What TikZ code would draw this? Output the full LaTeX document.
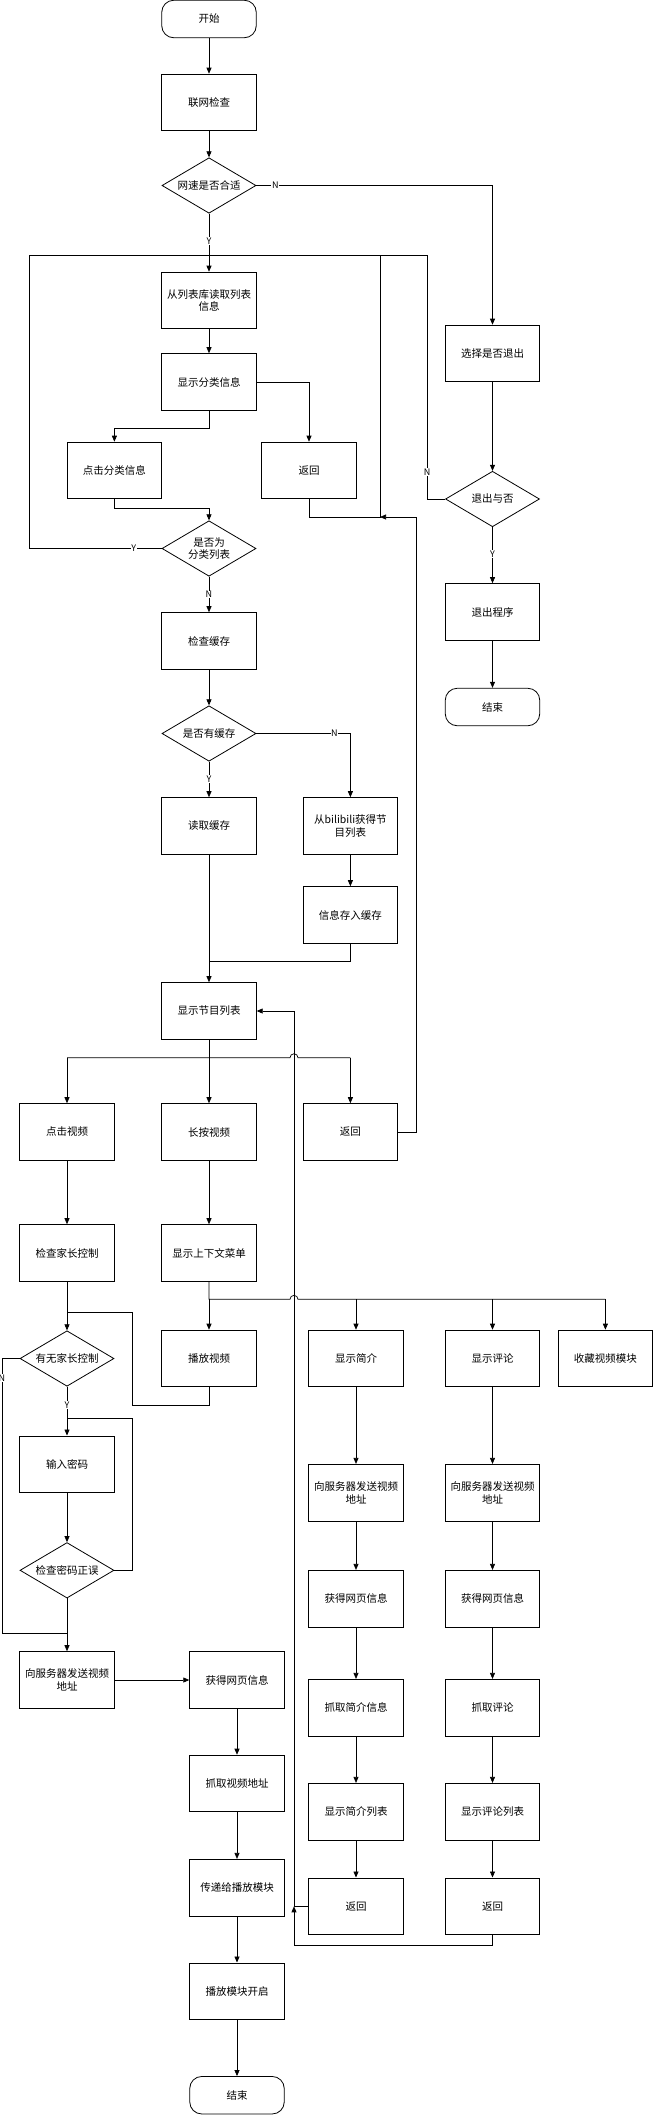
\documentclass[tikz,border=0pt]{standalone}
\usepackage{fontspec}
\setmainfont{Noto Sans CJK SC}
\usetikzlibrary{arrows.meta,shapes.geometric}
\tikzstyle{every path}=[line width=0.7pt]
\tikzstyle{process}=[draw, rectangle, line width=0.9pt, minimum width=94.5pt, minimum height=56.7pt, inner sep=1pt, align=center, font=\fontsize{10.5}{12.7}\selectfont]
\tikzstyle{decision}=[draw, diamond, aspect=1.7, line width=0.8pt, minimum width=94pt, minimum height=55.5pt, inner sep=0pt, align=center, font=\fontsize{10.5}{12.7}\selectfont]
\tikzstyle{terminal}=[draw, rectangle, rounded corners=12pt, line width=0.8pt, minimum width=94.5pt, minimum height=37.5pt, inner sep=1pt, font=\fontsize{10.5}{12.7}\selectfont]
\tikzstyle{flow}=[-{Triangle[length=6pt,width=5pt]}]
\tikzstyle{answer}=[fill=white, inner sep=0.6pt, font=\fontsize{9}{9}\selectfont]

\begin{document}
\begin{tikzpicture}[x=1pt, y=-1pt]
            \useasboundingbox (0,0) rectangle (653,2115);

            \node[terminal] (start) at (209,19) {开始};
            \node[process] (netcheck) at (209,102.5) {联网检查};
            \node[decision] (speedok) at (209,185.5) {网速是否合适};
            \node[process] (readlist) at (209,300.5) {从列表库读取列表\\信息};
            \node[process] (showcat) at (209,382) {显示分类信息};
            \node[process] (clickcat) at (114.4,470.5) {点击分类信息};
            \node[process] (backcat) at (309,470.5) {返回};
            \node[decision] (iscatlist) at (209,548.5) {是否为\\分类列表};
            \node[process] (checkcache) at (209,641) {检查缓存};
            \node[decision] (hascache) at (209,733.5) {是否有缓存};
            \node[process] (readcache) at (209,826) {读取缓存};
            \node[process] (fetchlist) at (350.4,826) {从bilibili获得节\\目列表};
            \node[process] (savecache) at (350.4,915) {信息存入缓存};
            \node[process] (showlist) at (209,1011) {显示节目列表};

            \node[process] (selectquit) at (492.5,353.5) {选择是否退出};
            \node[decision] (quitornot) at (492.5,499) {退出与否};
            \node[process] (quitprog) at (492.5,612) {退出程序};
            \node[terminal] (finishquit) at (492.5,707) {结束};

            \node[process] (clickvideo) at (67,1132) {点击视频};
            \node[process] (pressvideo) at (209,1132) {长按视频};
            \node[process] (backlist) at (350.4,1132) {返回};
            \node[process] (checkparent) at (67,1253) {检查家长控制};
            \node[process] (showmenu) at (209,1253) {显示上下文菜单};
            \node[decision] (hasparent) at (67,1358.5) {有无家长控制};
            \node[process] (playvideo) at (209,1358.5) {播放视频};
            \node[process] (showintro) at (356,1358.5) {显示简介};
            \node[process] (showcomment) at (492.5,1358.5) {显示评论};
            \node[process] (favmodule) at (605.4,1358.5) {收藏视频模块};
            \node[process] (inputpwd) at (67,1464.3) {输入密码};
            \node[decision] (checkpwd) at (67,1570.3) {检查密码正误};
            \node[process] (sendaddr) at (67,1680) {向服务器发送视频\\地址};
            \node[process] (getpage) at (237,1680) {获得网页信息};
            \node[process] (getaddr) at (237,1783.5) {抓取视频地址};
            \node[process] (passplayer) at (237,1887.7) {传递给播放模块};
            \node[process] (openplayer) at (237,1991.3) {播放模块开启};
            \node[terminal] (finish) at (237,2095.2) {结束};

            \node[process] (sendintro) at (356,1492.7) {向服务器发送视频\\地址};
            \node[process] (pageintro) at (356,1598.7) {获得网页信息};
            \node[process] (grabintro) at (356,1707.7) {抓取简介信息};
            \node[process] (listintro) at (356,1811.7) {显示简介列表};
            \node[process] (backintro) at (356,1906.3) {返回};
            \node[process] (sendcomment) at (492.5,1492.7) {向服务器发送视频\\地址};
            \node[process] (pagecomment) at (492.5,1598.7) {获得网页信息};
            \node[process] (grabcomment) at (492.5,1707.7) {抓取评论};
            \node[process] (listcomment) at (492.5,1811.7) {显示评论列表};
            \node[process] (backcomment) at (492.5,1906.3) {返回};

            \coordinate (looptop) at (209,255);
            \coordinate (loopleft) at (29,255);
            \coordinate (loopmid) at (380,517);
            \coordinate (loopright) at (427,255);
            \coordinate (backjoin) at (416,517);
            \coordinate (cachejoin) at (209,961);
            \coordinate (listsplit) at (209,1057.7);
            \coordinate (hopa) at (294,1057.7);
            \coordinate (menusplit) at (209,1299.3);
            \coordinate (hopb) at (294,1299.3);
            \coordinate (parentloop) at (132.5,1312.3);
            \coordinate (pwdloop) at (132.5,1418.3);
            \coordinate (parentno) at (2,1633.3);
            \coordinate (backloop) at (294,1945.7);

            \draw[flow] (start) -- (netcheck);
            \draw[flow] (netcheck) -- (speedok);
            \draw[flow] (speedok) -- node[answer, pos=0.47]{Y} (readlist);
            \draw[flow] (speedok.east) -- node[answer, pos=0.08]{N} (speedok.east -| selectquit) -- (selectquit.north);
            \draw[flow] (readlist) -- (showcat);
            \draw[flow] (showcat.east) -| (backcat.north);
            \draw[flow] (showcat.south) -- ++(0,17.3) -| (clickcat.north);
            \draw[flow] (clickcat.south) -- ++(0,9) -| (iscatlist.north);
            \draw (iscatlist.west) -- node[answer, pos=0.21]{Y} (iscatlist.west -| loopleft) -- (loopleft) -- (looptop);
            \draw (backcat.south) |- (loopmid) -- (loopmid |- looptop) -- (looptop);
            \draw (quitornot.west) -- (quitornot.west -| loopright) -- node[answer, pos=0.11]{N} (loopright) -- (looptop);
            \draw[flow] (backlist.east) -| (backjoin) -- (loopmid);
            \draw[flow] (iscatlist) -- node[answer, pos=0.5]{N} (checkcache);
            \draw[flow] (checkcache) -- (hascache);
            \draw[flow] (hascache) -- node[answer, pos=0.48]{Y} (readcache);
            \draw[flow] (hascache.east) -- node[answer, pos=0.83]{N} (hascache.east -| fetchlist) -- (fetchlist.north);
            \draw[flow] (fetchlist) -- (savecache);
            \draw (savecache.south) |- (cachejoin);
            \draw[flow] (readcache) -- (showlist);

            \draw[flow] (selectquit) -- (quitornot);
            \draw[flow] (quitornot) -- node[answer, pos=0.48]{Y} (quitprog);
            \draw[flow] (quitprog) -- (finishquit);

            \draw (showlist.south) -- (listsplit);
            \draw (listsplit -| clickvideo) -- ([xshift=-4pt]hopa) arc[start angle=180, end angle=0, radius=4pt] -- (listsplit -| backlist);
            \draw[flow] (listsplit -| clickvideo) -- (clickvideo);
            \draw[flow] (listsplit) -- (pressvideo);
            \draw[flow] (listsplit -| backlist) -- (backlist);
            \draw[flow] (clickvideo) -- (checkparent);
            \draw[flow] (pressvideo) -- (showmenu);
            \draw[flow] (checkparent) -- (hasparent);
            \draw (showmenu.south) -- (menusplit) -- ([xshift=-4pt]hopb) arc[start angle=180, end angle=0, radius=4pt] -- (menusplit -| favmodule);
            \draw[flow] (menusplit) -- (playvideo);
            \draw[flow] (menusplit -| showintro) -- (showintro);
            \draw[flow] (menusplit -| showcomment) -- (showcomment);
            \draw[flow] (menusplit -| favmodule) -- (favmodule);
            \draw (playvideo.south) -- ++(0,18.3) -| (parentloop) -- (parentloop -| checkparent);
            \draw[flow] (hasparent) -- node[answer, pos=0.37]{Y} (inputpwd);
            \draw[flow] (inputpwd) -- (checkpwd);
            \draw (checkpwd.east) -| (pwdloop) -- (pwdloop -| inputpwd);
            \draw (hasparent.west) -| node[answer, pos=0.535]{N} (parentno) -- (parentno -| sendaddr);
            \draw[flow] (checkpwd) -- (sendaddr);
            \draw[flow] (sendaddr) -- (getpage);
            \draw[flow] (getpage) -- (getaddr);
            \draw[flow] (getaddr) -- (passplayer);
            \draw[flow] (passplayer) -- (openplayer);
            \draw[flow] (openplayer) -- (finish);

            \draw[flow] (showintro) -- (sendintro);
            \draw[flow] (sendintro) -- (pageintro);
            \draw[flow] (pageintro) -- (grabintro);
            \draw[flow] (grabintro) -- (listintro);
            \draw[flow] (listintro) -- (backintro);
            \draw[flow] (showcomment) -- (sendcomment);
            \draw[flow] (sendcomment) -- (pagecomment);
            \draw[flow] (pagecomment) -- (grabcomment);
            \draw[flow] (grabcomment) -- (listcomment);
            \draw[flow] (listcomment) -- (backcomment);
            \draw[flow] (backcomment.south) |- (backloop) -- (backloop |- backintro.west);
            \draw[flow] (backintro.west) -| (backloop |- showlist.east) -- (showlist.east);
        \end{tikzpicture}
\end{document}
